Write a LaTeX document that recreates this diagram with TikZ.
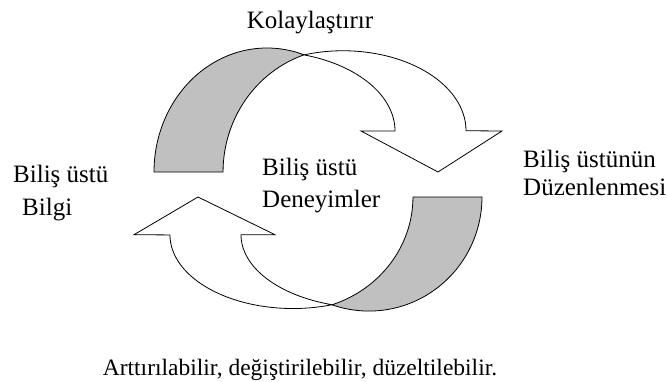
\documentclass[tikz,border=0pt]{standalone}
\usepackage{fontspec}
\setmainfont{Liberation Serif}
\usepackage{xcolor}
\definecolor{backgray}{RGB}{192,192,192}
\usepackage{tikz}
\usetikzlibrary{calc}
\usetikzlibrary{positioning}

% one curved arrow: the shaded back strip, then the front strip with its head
\newcommand{\turnarrow}{%
  \draw [back] (-164, 0) arc [start angle=180, end angle=70.9, x radius=113pt, y radius=124pt]
    arc [start angle=109, end angle=180, x radius=120pt, y radius=124pt] -- cycle;
  \draw [front] (77, 41) arc [start angle=0, end angle=73.2, x radius=128pt, y radius=79.5pt]
    arc [start angle=108.5, end angle=0, x radius=123pt, y radius=80pt]
    -- (184, 41) -- (120, 0) -- (43, 41) -- cycle;
}

\begin{document}
\begin{tikzpicture}[x=1pt, y=1pt,
    back/.style={draw, line width=0.8pt, fill=backgray, line join=miter},
    front/.style={draw, line width=0.8pt, fill=white, line join=miter},
    word/.style={inner sep=0pt, font=\fontsize{25}{30}\selectfont}]

    \useasboundingbox (0, 0) rectangle (667, 382);

    \begin{scope}[shift={(318, 210)}]
      \turnarrow
    \end{scope}
    \begin{scope}[shift={(318, 185)}, rotate=180, yscale=0.92]
      \turnarrow
    \end{scope}

    \node (kolay) [word, anchor=base] at (310, 353) {Kolaylaştırır};

    \node (bilgi1) [word, anchor=base west] at (13, 199) {Biliş üstü};
    \node (bilgi2) [word, anchor=base west] at (22, 166) {Bilgi};

    \node (deney1) [word, anchor=base west] at (262, 206) {Biliş üstü};
    \node (deney2) [word, anchor=base west] at (262, 174) {Deneyimler};

    \node (duzen1) [word, anchor=base west] at (523, 214) {Biliş üstünün};
    \node (duzen2) [word, anchor=base west] at (523, 186) {Düzenlenmesi};

    \node (alt) [word, font=\fontsize{23.5}{28}\selectfont, anchor=base] at (300, 6)
      {Arttırılabilir, değiştirilebilir, düzeltilebilir.};

  \end{tikzpicture}
\end{document}
